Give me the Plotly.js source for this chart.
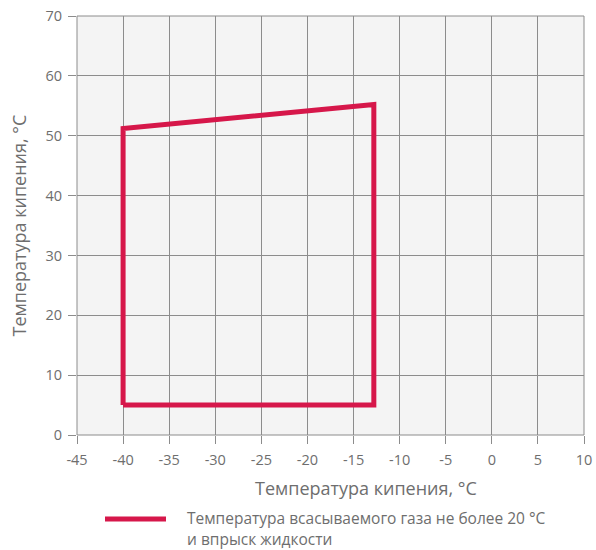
<!DOCTYPE html>
<html>
<head>
<meta charset="utf-8">
<script src="https://cdn.plot.ly/plotly-3.0.1.min.js"></script>
<style>html,body{margin:0;padding:0;background:#fff;}#chart{width:596px;height:550px;}</style>
</head>
<body>
<div id="chart"></div>
<script>
// Envelope polygon (evaporating temp, condensing temp)
const envelopeX = [-40, -40, -12.8, -12.8, -40];
const envelopeY = [5, 51.2, 55.2, 5, 5];
const seriesNameLines = ['Температура всасываемого газа не более 20 °C', 'и впрыск жидкости'];
const xTicks = [-45, -40, -35, -30, -25, -20, -15, -10, -5, 0, 5, 10];
const yTicks = [0, 10, 20, 30, 40, 50, 60, 70];
const xTitle = 'Температура кипения, °C';
const yTitle = 'Температура кипения, °C';

const red = '#d6174a';
const font = '"Open Sans", "Noto Sans", sans-serif';
const textGray = '#6e6e6e';

const trace = {
  x: envelopeX, y: envelopeY, mode: 'lines', type: 'scatter',
  line: {color: red, width: 5}, name: seriesNameLines.join(' '), showlegend: false,
  hoverinfo: 'skip'
};

const px = v => (v - 77) / 507;
const py = v => -(v - 435) / 419;

const layout = {
  width: 596, height: 550,
  margin: {l: 77, r: 12, t: 16, b: 115},
  paper_bgcolor: '#ffffff', plot_bgcolor: '#f4f4f4',
  font: {family: font, color: textGray, size: 14},
  showlegend: false,
  xaxis: {
    range: [-45, 10], tickvals: xTicks, ticktext: xTicks.map(String),
    showgrid: true, gridcolor: '#8c8c8c', gridwidth: 1,
    zeroline: false, showline: false,
    ticks: 'outside', ticklen: 8, tickcolor: '#8c8c8c', tickwidth: 1,
    ticklabelstandoff: 4,
    tickfont: {family: font, size: 14.5, color: textGray}, fixedrange: true
  },
  yaxis: {
    range: [0, 70], tickvals: yTicks, ticktext: yTicks.map(String),
    showgrid: true, gridcolor: '#8c8c8c', gridwidth: 1,
    zeroline: false, showline: false,
    ticks: 'outside', ticklen: 8, tickcolor: '#8c8c8c', tickwidth: 1,
    ticklabelstandoff: 3,
    tickfont: {family: font, size: 14.5, color: textGray}, fixedrange: true
  },
  shapes: [
    {type: 'line', xref: 'paper', yref: 'paper', x0: 0, x1: 0, y0: 0, y1: 1, line: {color: '#8c8c8c', width: 1}},
    {type: 'line', xref: 'paper', yref: 'paper', x0: 1, x1: 1, y0: 0, y1: 1, line: {color: '#8c8c8c', width: 1}},
    {type: 'line', xref: 'paper', yref: 'paper', x0: 0, x1: 1, y0: 1, y1: 1, line: {color: '#8c8c8c', width: 1}},
    {type: 'line', xref: 'paper', yref: 'paper', x0: 0, x1: 1, y0: 0, y1: 0, line: {color: '#8c8c8c', width: 1}},
    // legend sample line
    {type: 'line', xref: 'paper', yref: 'paper',
     x0: px(105), x1: px(166), y0: py(519), y1: py(519),
     line: {color: red, width: 5}}
  ],
  annotations: [
    {text: xTitle, xref: 'paper', yref: 'paper', x: px(366), y: py(488),
     xanchor: 'center', yanchor: 'middle', showarrow: false,
     font: {family: font, size: 18, color: textGray}},
    {text: yTitle, xref: 'paper', yref: 'paper', x: px(18), y: 0.5,
     xanchor: 'center', yanchor: 'middle', showarrow: false, textangle: -90,
     font: {family: font, size: 18, color: textGray}},
    {text: seriesNameLines[0], xref: 'paper', yref: 'paper', x: px(185), y: py(518),
     xanchor: 'left', yanchor: 'middle', align: 'left', showarrow: false,
     font: {family: font, size: 15.5, color: textGray}},
    {text: seriesNameLines[1], xref: 'paper', yref: 'paper', x: px(185), y: py(539),
     xanchor: 'left', yanchor: 'middle', align: 'left', showarrow: false,
     font: {family: font, size: 15.5, color: textGray}}
  ]
};

Plotly.newPlot('chart', [trace], layout, {displayModeBar: false, staticPlot: true});
</script>
</body>
</html>
